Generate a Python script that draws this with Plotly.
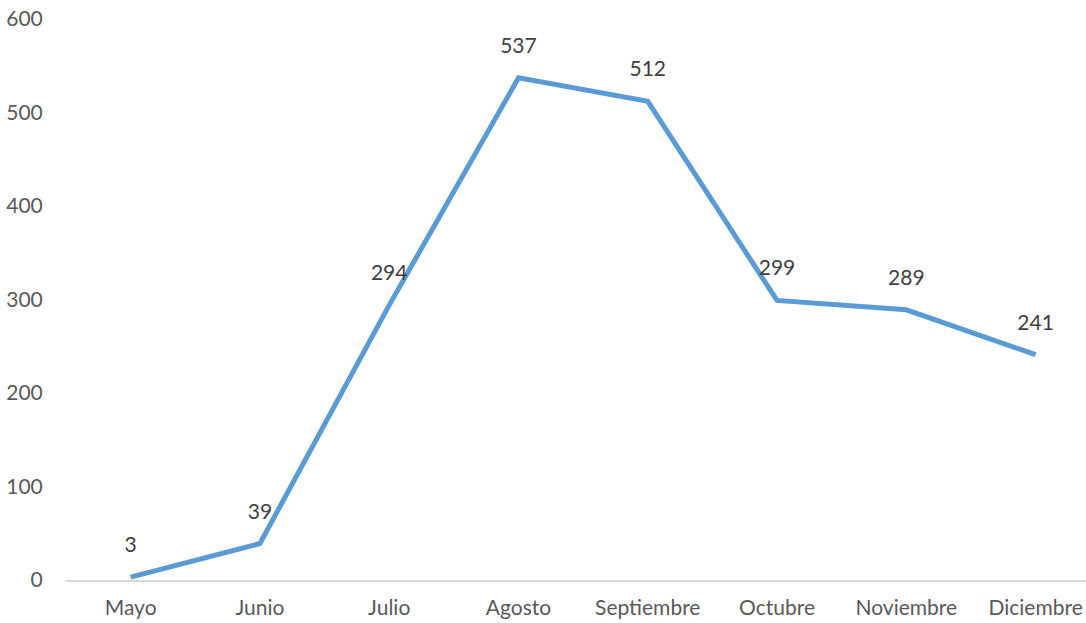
import plotly.graph_objects as go

months = ["Mayo", "Junio", "Julio", "Agosto", "Septiembre", "Octubre", "Noviembre", "Diciembre"]
values = [3, 39, 294, 537, 512, 299, 289, 241]
y_ticks = [0, 100, 200, 300, 400, 500, 600]

FONT = "Lato"

fig = go.Figure()
fig.add_trace(go.Scatter(
    x=months, y=values,
    mode="lines+markers+text",
    line=dict(color="#5B9BD5", width=5),
    marker=dict(size=30, color="rgba(0,0,0,0)"),
    text=[str(v) for v in values],
    textposition="top center",
    textfont=dict(family=FONT, size=21, color="#404040"),
    cliponaxis=False,
    hoverinfo="skip",
))

fig.update_layout(
    width=1086, height=623,
    margin=dict(l=66, r=0, t=19, b=43, autoexpand=False),
    paper_bgcolor="white", plot_bgcolor="white",
    showlegend=False,
    font=dict(family=FONT, size=21, color="#595959"),
)
fig.update_xaxes(
    type="category", range=[-0.5, 7.39], automargin=False,
    showgrid=False, showline=True, linecolor="#D9D9D9", linewidth=2,
    ticks="outside", ticklen=8, tickcolor="rgba(0,0,0,0)",
    tickfont=dict(family=FONT, size=21, color="#595959"),
    ticklabeloverflow="allow",
    zeroline=False,
)
fig.update_yaxes(
    range=[0, 600], tickvals=y_ticks, automargin=False,
    showgrid=False, showline=False, zeroline=False,
    ticks="outside", ticklen=18, tickcolor="rgba(0,0,0,0)",
    tickfont=dict(family=FONT, size=21, color="#595959"),
    ticklabeloverflow="allow",
)
# remove the page's default 8px body margin so the figure sits at the window origin
fig.write_html(
    "out.html",
    config={"displayModeBar": False},
    post_script="document.body.style.margin='0';",
)
